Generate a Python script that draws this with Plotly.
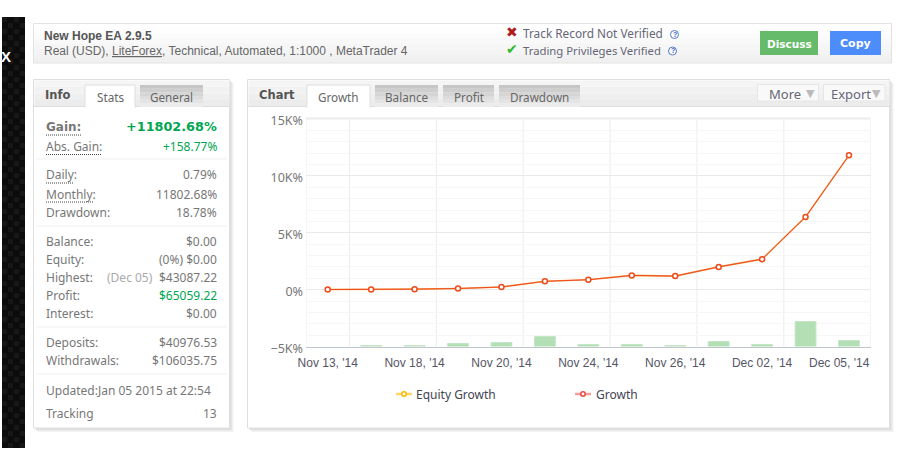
#!/usr/bin/env python3
# Growth chart of a trading account, with the page panels around it
import plotly.graph_objects as go

W = 905
H = 450

dates = ["Nov 13, '14", "Nov 14, '14", "Nov 18, '14", "Nov 19, '14", "Nov 20, '14", "Nov 21, '14", "Nov 24, '14",
         "Nov 25, '14", "Nov 26, '14", "Nov 27, '14", "Dec 02, '14", "Dec 03, '14", "Dec 05, '14"]
growth = [10, 15, 40, 100, 230, 730, 870, 1250, 1190, 2000, 2680, 6390, 11802.68]
equity_growth = [10, 15, 40, 100, 230, 730, 870, 1250, 1190, 2000, 2680, 6390, 11802.68]
bars = [None, 90, 90, 260, 350, 880, 180, 180, 90, 440, 180, 2200, 530]
y_ticks = [-5000, 0, 5000, 10000, 15000]
y_labels = ["−5K%", "0%", "5K%", "10K%", "15K%"]

stats_rows = [
    ("Abs. Gain:", "+158.77%", 146, "#00a651"),
    ("Daily:", "0.79%", 175, "#777777"),
    ("Monthly:", "11802.68%", 194, "#777777"),
    ("Drawdown:", "18.78%", 212.5, "#777777"),
    ("Balance:", "$0.00", 241.5, "#777777"),
    ("Equity:", "(0%) $0.00", 259.5, "#777777"),
    ("Profit:", "$65059.22", 295.5, "#00a651"),
    ("Interest:", "$0.00", 313.5, "#777777"),
    ("Deposits:", "$40976.53", 342.5, "#777777"),
    ("Withdrawals:", "$106035.75", 360, "#777777"),
    ("Updated:Jan 05 2015 at 22:54", "", 390, "#777777"),
    ("Tracking", "13", 413, "#777777"),
]

shapes = []
annotations = []
SANS = "Noto Sans"
ARIAL = "Liberation Sans"


def fx(x):
    return x / W


def fy(y):
    return 1 - y / H


def rect(x0, y0, x1, y1, fill, line=None):
    shapes.append(dict(type="rect", xref="paper", yref="paper", layer="below",
                       x0=fx(x0), x1=fx(x1), y0=fy(y0), y1=fy(y1),
                       fillcolor=fill, line=dict(color=line or fill, width=1 if line else 0)))


def hline(x0, x1, y, color, dash="solid", width=1):
    shapes.append(dict(type="line", xref="paper", yref="paper", layer="below",
                       x0=fx(x0), x1=fx(x1), y0=fy(y), y1=fy(y),
                       line=dict(color=color, width=width, dash=dash)))


def circle(cx, cy, r, fill, color, width=1):
    shapes.append(dict(type="circle", xref="paper", yref="paper", layer="below",
                       x0=fx(cx - r), x1=fx(cx + r), y0=fy(cy - r), y1=fy(cy + r),
                       fillcolor=fill, line=dict(color=color, width=width)))


def txt(x, y, s, anchor="left", size=12, color="#777777", font=SANS, bold=False):
    if bold:
        s = "<b>" + s + "</b>"
    # annotation boxes keep about 1px around the text
    nudge = {"left": -1, "right": 1, "center": 0}[anchor]
    annotations.append(dict(xref="paper", yref="paper", x=fx(x + nudge), y=fy(y), text=s, showarrow=False,
                            xanchor=anchor, yanchor="middle", borderpad=0,
                            font=dict(family=font, size=size, color=color)))


def gradient(x0, y0, x1, y1, top, bottom, steps=6):
    # no gradient fill on shapes, so stack a few bands
    t = [int(top[i:i + 2], 16) for i in (1, 3, 5)]
    b = [int(bottom[i:i + 2], 16) for i in (1, 3, 5)]
    for i in range(steps):
        c = [round(t[k] + (b[k] - t[k]) * i / (steps - 1)) for k in range(3)]
        rect(x0, y0 + (y1 - y0) * i / steps, x1, y0 + (y1 - y0) * (i + 1) / steps, "rgb(%d,%d,%d)" % tuple(c))


def panel(x0, y0, x1, y1):
    for off, col in ((4, "#f3f3f3"), (3, "#ebebeb"), (2, "#e0e0e0")):
        rect(x0 + off, y0 + off, x1 + off, y1 + off, col)
    rect(x0, y0, x1, y1, "#ffffff", "#dedede")
    gradient(x0 + 1, y0 + 1, x1, y0 + 27, "#f5f5f5", "#ececec", 4)
    hline(x0, x1, y0 + 27, "#dedede")


def tab(x0, x1, label, active=False):
    if active:
        rect(x0, 85, x1, 107.5, "#ffffff", "#dedede")
        rect(x0 + 0.5, 105, x1 - 0.5, 108, "#ffffff")
    else:
        gradient(x0, 85, x1, 107, "#c6c6c6", "#ececec", 6)
    txt((x0 + x1) / 2, 96.5, label, "center", 11.7, "#666666")


# black strip on the left
rect(2, 17, 25, 448, "#0c0c0c")
for row in range(72):
    for col in range(4):
        if (row + col) % 2 == 0:
            rect(2 + col * 6, 17 + row * 6, min(2 + col * 6 + 5, 25), min(17 + row * 6 + 5, 448), "#171717")
txt(1, 56, "X", "left", 15, "#ffffff", ARIAL, True)

# header bar
gradient(33.5, 23.5, 891.5, 63, "#ffffff", "#f0f0f0", 8)
rect(33.5, 23.5, 891.5, 63, "rgba(0,0,0,0)", "#e3e3e3")
txt(44, 35.5, "New Hope EA 2.9.5", "left", 12, "#555555", ARIAL, True)
txt(44, 51, "Real (USD), <u>LiteForex</u>, Technical, Automated, 1:1000 , MetaTrader 4", "left", 12, "#666666", ARIAL)
txt(505.5, 32.5, "✖", "left", 14, "#b01c1c", "DejaVu Sans")
txt(505.5, 49.5, "✔", "left", 14, "#2eb82e", "DejaVu Sans")
txt(523, 33.5, "Track Record Not Verified", "left", 11.8, "#666677")
txt(523, 50.5, "Trading Privileges Verified", "left", 11.3, "#666677")
for cx, cy in ((674.5, 34.5), (672.5, 51)):
    circle(cx, cy, 4, "#ffffff", "#5577cc")
    txt(cx, cy, "?", "center", 7, "#4466bb", ARIAL, True)
rect(760, 31, 818, 55, "#66bb6a")
rect(830, 31, 881, 55, "#4d8dfb")
txt(789, 43.5, "Discuss", "center", 10.5, "#ffffff", "DejaVu Sans", True)
txt(855.5, 43.5, "Copy", "center", 11, "#ffffff", "DejaVu Sans", True)

# info panel
panel(33.5, 79.5, 229.5, 428)
txt(45, 95, "Info", "left", 11.5, "#555555", "DejaVu Sans", True)
tab(85, 135, "Stats", True)
tab(140, 203, "General")
txt(46, 127, "Gain:", "left", 12, "#777777", "DejaVu Sans", True)
txt(217, 127, "+11802.68%", "right", 12.8, "#00a651", "DejaVu Sans", True)
for label, value, y, color in stats_rows:
    txt(46, y, label)
    if value:
        txt(217, y, value, "right", 12, color)
txt(46, 277.5, "Highest:")
txt(153, 277.5, "(Dec 05)", "right", 12, "#aaaaaa")
txt(217, 277.5, "$43087.22", "right")
for x1, y in ((81, 135), (101, 154.5), (74, 183), (93, 202)):
    hline(46, x1, y, "#444444", "1px,1px")
for y in (159, 226, 327, 374):
    hline(36, 227, y, "#efefef")

# chart panel
panel(247.5, 79.5, 889.5, 428)
txt(259, 95, "Chart", "left", 11.5, "#555555", "DejaVu Sans", True)
tab(307, 370, "Growth", True)
tab(375, 438, "Balance")
tab(443, 494, "Profit")
tab(499, 580, "Drawdown")
rect(757.5, 84.5, 818.5, 101, "#f9f9f9", "#e6e6e6")
rect(823.5, 84.5, 885, 101, "#f9f9f9", "#e6e6e6")
txt(785, 93.5, "More", "center", 13, "#666677")
txt(851, 93.5, "Export", "center", 13, "#666677")
txt(810, 93, "▼", "center", 11, "#bbbbbb", "DejaVu Sans")
txt(876, 93, "▼", "center", 11, "#bbbbbb", "DejaVu Sans")

# legend, plotly will not draw its line keys this short
hline(396, 412, 394, "#ffd466", width=2.5)
circle(404, 394, 2.2, "#ffffff", "#f5b800", 1.5)
txt(416, 394, "Equity Growth", "left", 12, "#444455")
hline(575, 591, 394, "#f99a9a", width=2.5)
circle(583, 394, 2.2, "#ffffff", "#e8483c", 1.5)
txt(596, 394, "Growth", "left", 12, "#444455")

# plot border and the vertical grid, which sits between categories
hline(306, 870.7, 118.5, "#ebebeb", width=2)
for pos in (0.5, 2.5, 4.5, 6.5, 8.5, 10.5, -0.5, 12.5):
    shapes.append(dict(type="line", xref="x", yref="y", layer="below", x0=pos, x1=pos, y0=-5000, y1=15000,
                       line=dict(color="#ececec", width=1)))

# the last label is pulled in so it ends at the plot edge
tick_labels = dates[::2]
tick_labels[-1] = ""
txt(870, 362.5, dates[-1], "right", 12, "#555566", ARIAL)

fig = go.Figure()
fig.add_trace(go.Bar(x=dates, y=bars, base=-5000, width=0.48, showlegend=False, hoverinfo="skip",
                     marker=dict(color="#b3dfb5", line=dict(color="#c4e6c6", width=1))))
fig.add_trace(go.Scatter(x=dates, y=equity_growth, mode="lines", name="Equity Growth", showlegend=False,
                         line=dict(color="#f7a35c", width=1.6)))
fig.add_trace(go.Scatter(x=dates, y=growth, mode="lines+markers", name="Growth", showlegend=False,
                         line=dict(color="#ee4b1a", width=1),
                         marker=dict(size=5, color="#ffffff", line=dict(color="#ee4b1a", width=1.5))))

# annotations near the edge would otherwise push the margins out
fig.update_layout(
    width=W, height=H, margin=dict(l=0, r=0, t=0, b=0, autoexpand=False), autosize=False,
    paper_bgcolor="#ffffff", plot_bgcolor="rgba(0,0,0,0)",
    shapes=shapes, annotations=annotations, bargap=0.5,
)
fig.update_xaxes(domain=[fx(306), fx(870.7)], type="category", categoryorder="array", categoryarray=dates,
                 range=[-0.5, 12.5], tickmode="array", tickvals=dates[::2], ticktext=tick_labels,
                 showgrid=False, ticks="", showline=True, linecolor="#c0c6d0", linewidth=1, ticklabelstandoff=5,
                 tickfont=dict(family=ARIAL, size=12, color="#555566"))
fig.update_yaxes(domain=[fy(346.5), fy(119)], range=[-5000, 15000], tickmode="array",
                 tickvals=y_ticks, ticktext=y_labels, ticks="", zeroline=False, ticklabelstandoff=2,
                 ticklabelshift=2, gridcolor="#e9e9e9", gridwidth=1,
                 minor=dict(dtick=1000, showgrid=True, gridcolor="#f6f6f6", gridwidth=1),
                 tickfont=dict(family=SANS, size=12.5, color="#777777"))

fig.write_html("out.html", config={"displayModeBar": False},
               post_script="document.body.style.margin='0';document.body.style.overflow='hidden';")
